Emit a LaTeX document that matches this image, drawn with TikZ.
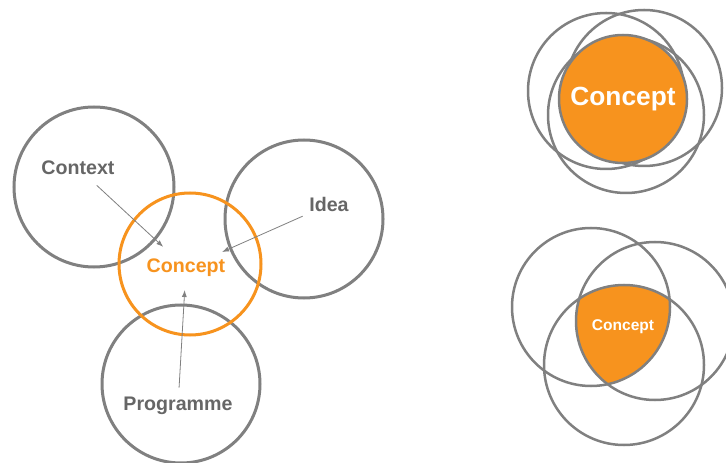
\documentclass[tikz,border=0pt]{standalone}
\usepackage{fontspec}
\setmainfont{Liberation Sans}
\usetikzlibrary{arrows.meta}

\definecolor{ringgrey}{RGB}{128,128,128}
\definecolor{labelgrey}{RGB}{102,102,102}
\definecolor{conceptorange}{RGB}{247,147,30}

\begin{document}
\begin{tikzpicture}[x=1bp,y=-1bp,
  ring/.style={circle,draw=ringgrey,line width=3bp,inner sep=0pt,minimum size=#1},
  thinring/.style={circle,draw=ringgrey,line width=2.5bp,inner sep=0pt,minimum size=#1},
  corering/.style={circle,draw=conceptorange,line width=3bp,inner sep=0pt,minimum size=#1},
  label/.style={text=labelgrey,inner sep=0pt,font=\fontsize{19.7}{22}\selectfont\bfseries},
  corelabel/.style={text=conceptorange,inner sep=0pt,font=\fontsize{19.7}{22}\selectfont\bfseries},
  feed/.style={draw=ringgrey,line width=0.8bp,-{Latex[length=7bp,width=5bp]}}
]
\useasboundingbox (0,0) rectangle (726,463);
\fill[white] (0,0) rectangle (726,463);

% ---- left: three sources feeding the concept ----
\node[ring=160bp] (ctx) at (94,187) {};
\node[ring=158bp] (idea) at (304,219) {};
\node[ring=158bp] (prog) at (181,384) {};
\node[corering=142bp] (core) at (190,264) {};

\node[label] (ctxl) at (78,168) {Context};
\node[label] (ideal) at (329,204.5) {Idea};
\node[label] (progl) at (178,406) {Programme};
\node[corelabel] (corel) at (186,268) {Concept};

\draw[feed, shorten <=25.5bp, shorten >=31bp] (ctxl.center) -- (corel.center);
\draw[feed, shorten <=28.8bp, shorten >=39.4bp] (ideal.center) -- (corel.center);
\draw[feed, shorten <=18.4bp, shorten >=22bp] (progl.center) -- (corel.center);

% ---- top right: circles almost coinciding ----
\node[thinring=156bp] (ta) at (606,91) {};
\node[thinring=156bp] (tb) at (644,88) {};
\node[thinring=156bp] (tc) at (626,115) {};
\node[circle,fill=conceptorange,draw=ringgrey,line width=2.5bp,inner sep=0pt,
      minimum size=128bp,text=white,font=\fontsize{26.4}{30}\selectfont\bfseries]
      (tcore) at (623,99) {Concept};

% ---- bottom right: concept as the common overlap ----
\coordinate (bl) at (591,307);
\coordinate (br) at (655,321);
\coordinate (bb) at (624,365);
\begin{scope}
  \clip (bl) circle[radius=79bp];
  \clip (br) circle[radius=79bp];
  \fill[conceptorange] (bb) circle[radius=80bp];
\end{scope}
\node[thinring=158bp] (bL) at (bl) {};
\node[thinring=158bp] (bR) at (br) {};
\node[thinring=160bp] (bB) at (bb) {};
\node[text=white,inner sep=0pt,font=\fontsize{15.6}{18}\selectfont\bfseries]
      (bcore) at (623,327) {Concept};
\end{tikzpicture}
\end{document}
